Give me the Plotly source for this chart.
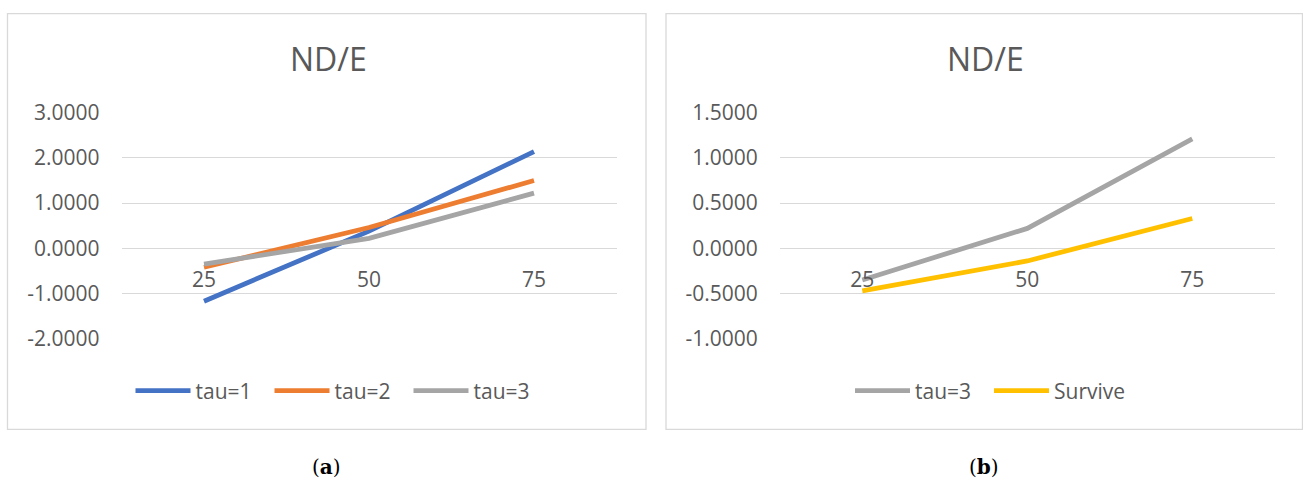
import plotly.graph_objects as go

W, H = 1303, 479

# ---- data ----
categories = ["25", "50", "75"]
a_tau1 = [-1.17, 0.38, 2.14]
a_tau2 = [-0.42, 0.46, 1.50]
a_tau3 = [-0.35, 0.22, 1.22]
b_tau3 = [-0.35, 0.22, 1.21]
b_survive = [-0.47, -0.14, 0.33]
a_yticks = [-2, -1, 0, 1, 2, 3]
b_yticks = [-1.0, -0.5, 0.0, 0.5, 1.0, 1.5]
a_yticktext = [f"{v:.4f}" for v in a_yticks]
b_yticktext = [f"{v:.4f}" for v in b_yticks]

FONT = "Open Sans"
TXT = "#595959"
GRID = "#D9D9D9"
LW = 4.8
FS = 21

def px(x):
    return x / W

def py(y):
    return 1 - y / H

fig = go.Figure()
fig.add_trace(go.Scatter(x=categories, y=a_tau1, mode="lines", name="tau=1",
                         line=dict(color="#4472C4", width=LW), xaxis="x", yaxis="y", legend="legend"))
fig.add_trace(go.Scatter(x=categories, y=a_tau2, mode="lines", name="tau=2",
                         line=dict(color="#ED7D31", width=LW), xaxis="x", yaxis="y", legend="legend"))
fig.add_trace(go.Scatter(x=categories, y=a_tau3, mode="lines", name="tau=3",
                         line=dict(color="#A5A5A5", width=LW), xaxis="x", yaxis="y", legend="legend"))
fig.add_trace(go.Scatter(x=categories, y=b_tau3, mode="lines", name="tau=3",
                         line=dict(color="#A5A5A5", width=LW), xaxis="x2", yaxis="y2", legend="legend2"))
fig.add_trace(go.Scatter(x=categories, y=b_survive, mode="lines", name="Survive",
                         line=dict(color="#FFC000", width=LW), xaxis="x2", yaxis="y2", legend="legend2"))

ydom = [py(338.7), py(112.7)]
zero_pos = py(248.3)

xcommon = dict(type="category", range=[-0.5, 2.5], anchor="free", position=zero_pos,
               showgrid=False, showline=False, zeroline=False, ticks="", automargin=False,
               ticklabelstandoff=17, tickfont=dict(family=FONT, size=FS, color=TXT),
               fixedrange=True)
ycommon = dict(showgrid=True, gridcolor=GRID, gridwidth=1.3, zeroline=False, showline=False,
               ticks="", ticklabelstandoff=21, automargin=False,
               tickfont=dict(family=FONT, size=FS, color=TXT),
               domain=ydom, fixedrange=True)

legcommon = dict(orientation="h", yanchor="middle", y=py(391), xanchor="center",
                 font=dict(family=FONT, size=FS, color=TXT), bgcolor="rgba(0,0,0,0)",
                 itemwidth=55, entrywidth=69, tracegroupgap=0)

fig.update_layout(
    width=W, height=H,
    margin=dict(l=0, r=0, t=0, b=0, pad=0),
    paper_bgcolor="white", plot_bgcolor="white",
    showlegend=True,
    xaxis=dict(domain=[px(121.5), px(616.5)], **xcommon),
    xaxis2=dict(domain=[px(779.8), px(1274.8)], **xcommon),
    yaxis=dict(range=[-2, 3], tickvals=a_yticks, ticktext=a_yticktext, anchor="x", **ycommon),
    yaxis2=dict(range=[-1, 1.5], tickvals=b_yticks, ticktext=b_yticktext, anchor="x2", **ycommon),
    legend=dict(x=px(339), **legcommon),
    legend2=dict(x=px(989), **legcommon),
    shapes=[
        dict(type="rect", xref="paper", yref="paper", x0=px(7.5), x1=px(646), y0=py(429.3), y1=py(13.7),
             line=dict(color=GRID, width=1.3), fillcolor="rgba(0,0,0,0)", layer="below"),
        dict(type="rect", xref="paper", yref="paper", x0=px(666), x1=px(1302.5), y0=py(429.3), y1=py(13.7),
             line=dict(color=GRID, width=1.3), fillcolor="rgba(0,0,0,0)", layer="below"),
    ],
    annotations=[
        dict(text="ND/E", x=px(329), y=py(58), xref="paper", yref="paper", showarrow=False,
             xanchor="center", yanchor="middle", font=dict(family=FONT, size=32, color=TXT)),
        dict(text="ND/E", x=px(985), y=py(58), xref="paper", yref="paper", showarrow=False,
             xanchor="center", yanchor="middle", font=dict(family=FONT, size=32, color=TXT)),
        dict(text="(<b>a</b>)", x=px(327), y=py(467), xref="paper", yref="paper", showarrow=False,
             xanchor="center", yanchor="middle", font=dict(family="DejaVu Serif", size=20, color="black")),
        dict(text="(<b>b</b>)", x=px(984), y=py(467), xref="paper", yref="paper", showarrow=False,
             xanchor="center", yanchor="middle", font=dict(family="DejaVu Serif", size=20, color="black")),
    ],
)

fig.write_html("out.html", config={"displayModeBar": False},
               post_script="document.body.style.margin='0';document.body.style.overflow='hidden';")
